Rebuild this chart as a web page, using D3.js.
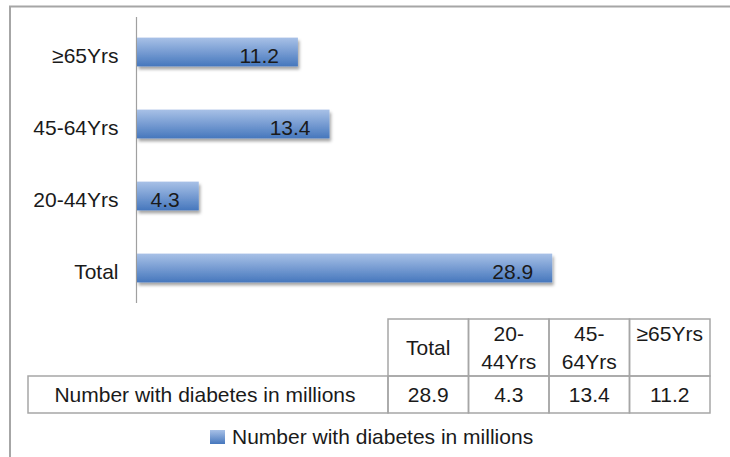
<!DOCTYPE html>
<html>
<head>
<meta charset="utf-8">
<script src="https://cdn.jsdelivr.net/npm/d3@7"></script>
<style>
  body { margin: 0; background: #fff; }
  text { font-family: "Liberation Sans", Arial, Helvetica, sans-serif; fill: #1a1a1a; }
</style>
</head>
<body>
<div id="chart"></div>
<script>
// chart data
var categories = ["Total", "20-44Yrs", "45-64Yrs", "≥65Yrs"];
var values = [28.9, 4.3, 13.4, 11.2];
var headerLines = [["Total"], ["20-", "44Yrs"], ["45-", "64Yrs"], ["≥65Yrs", ""]];
var seriesName = "Number with diabetes in millions";

var svgWidth = 730;
var svgHeight = 457;
var fontSize = "21px";

var svg = d3.select("#chart")
    .append("svg")
    .attr("width", svgWidth)
    .attr("height", svgHeight);

var defs = svg.append("defs");

// blue bar gradient
var grad = defs.append("linearGradient")
    .attr("id", "barGrad")
    .attr("x1", 0).attr("y1", 0)
    .attr("x2", 0).attr("y2", 1);
grad.append("stop").attr("offset", "0%").attr("stop-color", "#a8c1e7");
grad.append("stop").attr("offset", "100%").attr("stop-color", "#4677bd");

// soft shadow under bars
var shadow = defs.append("filter")
    .attr("id", "barShadow")
    .attr("x", "-5%").attr("y", "-20%")
    .attr("width", "115%").attr("height", "160%");
shadow.append("feDropShadow")
    .attr("dx", 1.5)
    .attr("dy", 3)
    .attr("stdDeviation", 1.6)
    .attr("flood-color", "#000")
    .attr("flood-opacity", 0.35);

// outer frame (top and left only)
svg.append("line")
    .attr("x1", 9).attr("x2", svgWidth)
    .attr("y1", 6.5).attr("y2", 6.5)
    .attr("stroke", "#a6a6a6").attr("stroke-width", 2);
svg.append("line")
    .attr("x1", 10).attr("x2", 10)
    .attr("y1", 6).attr("y2", svgHeight)
    .attr("stroke", "#a6a6a6").attr("stroke-width", 2);

// scales
var xScale = d3.scaleLinear()
    .domain([0, 30])
    .range([137, 568]);

var yScale = d3.scaleBand()
    .domain(categories.slice().reverse())
    .range([16, 304])
    .paddingInner(0.6)
    .paddingOuter(0.3);

// category axis
var leftAxis = d3.axisLeft(yScale).tickSize(0).tickPadding(18);
var axisGroup = svg.append("g")
    .attr("transform", "translate(136.5, 0)")
    .call(leftAxis);
axisGroup.select(".domain")
    .attr("stroke", "#a0a0a0")
    .attr("stroke-width", 1.2)
    .attr("d", "M0,17V303");
axisGroup.selectAll(".tick text")
    .attr("dy", "0.5em")
    .style("font-size", fontSize)
    .style("font-family", "'Liberation Sans', Arial, sans-serif")
    .attr("fill", "#1a1a1a");

// bars
var barData = categories.map(function (c, i) { return { cat: c, value: values[i] }; });

svg.selectAll(".bar")
    .data(barData)
    .enter()
    .append("rect")
    .attr("class", "bar")
    .attr("x", xScale(0))
    .attr("y", d => yScale(d.cat))
    .attr("width", d => xScale(d.value) - xScale(0))
    .attr("height", yScale.bandwidth())
    .attr("fill", "url(#barGrad)")
    .attr("filter", "url(#barShadow)");

// value labels inside bar end
svg.selectAll(".valueLabel")
    .data(barData)
    .enter()
    .append("text")
    .attr("class", "valueLabel")
    .attr("x", d => xScale(d.value) - 19)
    .attr("y", d => yScale(d.cat) + yScale.bandwidth() / 2)
    .attr("dy", "0.5em")
    .attr("text-anchor", "end")
    .style("font-size", fontSize)
    .text(d => d.value);

// data table
var colScale = d3.scaleBand()
    .domain(categories)
    .range([388, 710]);

var headTop = 319, rowTop = 376, rowBottom = 413;
var tableGroup = svg.append("g")
    .attr("fill", "none")
    .attr("stroke", "#a6a6a6")
    .attr("stroke-width", 1.5);

// header cells
tableGroup.selectAll(".headCell")
    .data(categories)
    .enter()
    .append("rect")
    .attr("x", d => colScale(d))
    .attr("y", headTop)
    .attr("width", colScale.bandwidth())
    .attr("height", rowTop - headTop);

// value cells
tableGroup.selectAll(".valCell")
    .data(categories)
    .enter()
    .append("rect")
    .attr("x", d => colScale(d))
    .attr("y", rowTop)
    .attr("width", colScale.bandwidth())
    .attr("height", rowBottom - rowTop);

// series label cell
tableGroup.append("rect")
    .attr("x", 28)
    .attr("y", rowTop)
    .attr("width", 388 - 28)
    .attr("height", rowBottom - rowTop);

// header text
var lineHeight = 28;
var headMid = (headTop + rowTop) / 2;
categories.forEach(function (c, i) {
    var lines = headerLines[i];
    var t = svg.append("text")
        .attr("text-anchor", "middle")
        .style("font-size", fontSize);
    lines.forEach(function (ln, j) {
        t.append("tspan")
            .attr("x", colScale(c) + colScale.bandwidth() / 2)
            .attr("y", headMid + 7 + (j - (lines.length - 1) / 2) * lineHeight)
            .text(ln);
    });
});

// value row text
svg.selectAll(".tableVal")
    .data(barData)
    .enter()
    .append("text")
    .attr("class", "tableVal")
    .attr("x", d => colScale(d.cat) + colScale.bandwidth() / 2)
    .attr("y", (rowTop + rowBottom) / 2 + 7)
    .attr("text-anchor", "middle")
    .style("font-size", fontSize)
    .text(d => d.value);

svg.append("text")
    .attr("x", (28 + 388) / 2 - 3)
    .attr("y", (rowTop + rowBottom) / 2 + 7)
    .attr("text-anchor", "middle")
    .style("font-size", fontSize)
    .text(seriesName);

// legend
svg.append("rect")
    .attr("x", 210)
    .attr("y", 430)
    .attr("width", 15)
    .attr("height", 14)
    .attr("fill", "url(#barGrad)");

svg.append("text")
    .attr("x", 232)
    .attr("y", 444)
    .style("font-size", fontSize)
    .text(seriesName);
</script>
</body>
</html>
